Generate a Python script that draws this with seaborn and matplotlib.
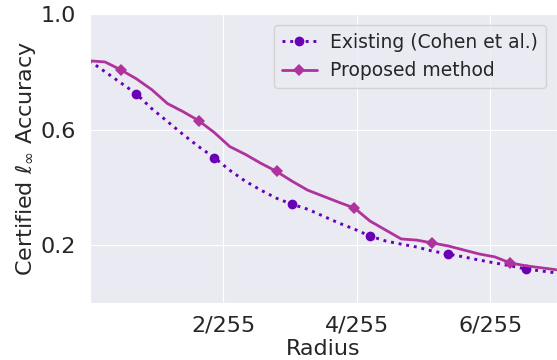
import numpy as np
import pandas as pd
import matplotlib
matplotlib.use("Agg")
import matplotlib.pyplot as plt
import seaborn as sns

# radius grid: 31 points from 0 to 7/255
radius = np.arange(31) * (7 / 255) / 30

existing = [0.838, 0.800, 0.762, 0.724, 0.672, 0.628, 0.583, 0.541, 0.503, 0.459,
            0.421, 0.390, 0.362, 0.341, 0.324, 0.300, 0.276, 0.255, 0.231, 0.214,
            0.203, 0.193, 0.179, 0.169, 0.159, 0.148, 0.138, 0.128, 0.117, 0.110,
            0.103]
proposed = [0.838, 0.834, 0.807, 0.776, 0.738, 0.690, 0.662, 0.631, 0.590, 0.541,
            0.514, 0.483, 0.455, 0.421, 0.390, 0.369, 0.348, 0.328, 0.283, 0.252,
            0.221, 0.217, 0.207, 0.197, 0.183, 0.169, 0.159, 0.138, 0.128, 0.121,
            0.114]

xticks = [2 / 255, 4 / 255, 6 / 255]
xtick_labels = ["2/255", "4/255", "6/255"]
yticks = [0.2, 0.6, 1.0]

df = pd.DataFrame({"radius": radius, "existing": existing, "proposed": proposed})

sns.set_style("darkgrid")
fig = plt.figure(figsize=(5.57, 3.6), dpi=100)
ax = fig.add_axes([0.1607, 0.159, 0.8393, 0.802])

sns.lineplot(data=df, x="radius", y="existing", ax=ax, color="#6a00b6",
             linestyle=":", linewidth=2.1, marker="o", markersize=7,
             markeredgewidth=0, markevery=(3, 5), label="Existing (Cohen et al.)")
sns.lineplot(data=df, x="radius", y="proposed", ax=ax, color="#b0329c",
             linestyle="-", linewidth=2, marker="D", markersize=6,
             markeredgewidth=0, markevery=(2, 5), label="Proposed method")

ax.set_xlim(0, 7 / 255)
ax.set_ylim(0, 1.0)
ax.set_xticks(xticks)
ax.set_xticklabels(xtick_labels)
ax.set_yticks(yticks)
ax.set_yticklabels(["0.2", "0.6", "1.0"])
ax.tick_params(labelsize=16, pad=6)
ax.set_xlabel("Radius", fontsize=16, labelpad=2)
ax.set_ylabel(r"Certified $\ell_\infty$ Accuracy", fontsize=16, labelpad=2)
ax.legend(loc="upper right", fontsize=13.5, borderaxespad=0.6,
          handlelength=1.9, handletextpad=0.7)

fig.savefig("out.png", dpi=100)
